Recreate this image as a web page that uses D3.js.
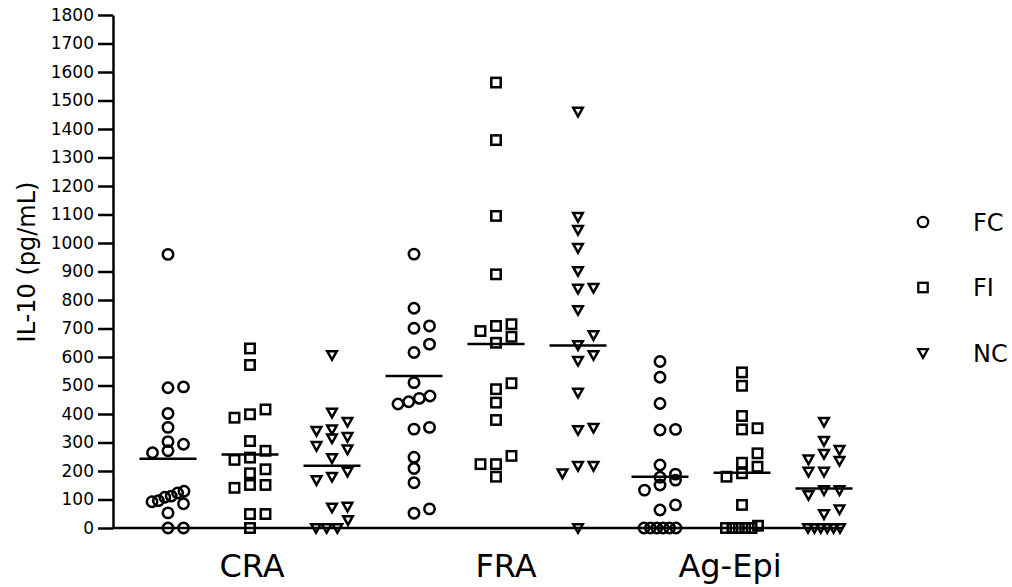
<!DOCTYPE html>
<html>
<head>
<meta charset="utf-8">
<script src="https://cdn.jsdelivr.net/npm/d3@7"></script>
<style>
  body { margin: 0; background: #fff; }
  text { font-family: "DejaVu Sans", Verdana, sans-serif; fill: #000; }
</style>
</head>
<body>
<script>
// Categories and series
const groups = ["CRA", "FRA", "Ag-Epi"];
const series = ["FC", "FI", "NC"];

// IL-10 values (pg/mL)
const craFC = [960, 495, 492, 402, 353, 303, 294, 271, 264, 129, 123, 112, 108, 96, 92, 85, 53, 0, 0];
const craFI = [630, 572, 416, 399, 387, 305, 271, 247, 239, 206, 192, 151, 151, 141, 49, 49, 0];
const craNC = [607, 405, 373, 346, 341, 320, 315, 288, 276, 245, 198, 180, 168, 75, 72, 28, 0, 0, 0];
const fraFC = [961, 771, 709, 701, 645, 616, 510, 463, 455, 443, 435, 353, 347, 248, 209, 159, 67, 52];
const fraFI = [1563, 1361, 1095, 890, 715, 709, 691, 671, 650, 508, 487, 440, 379, 253, 224, 224, 180];
const fraNC = [1461, 1092, 1046, 983, 902, 843, 840, 765, 677, 642, 607, 587, 475, 352, 344, 218, 218, 192, 0];
const agFC = [584, 529, 437, 346, 344, 221, 189, 178, 168, 151, 133, 81, 63, 0, 0, 0, 0, 0, 0];
const agFI = [546, 499, 393, 350, 346, 262, 229, 215, 192, 180, 81, 8, 0, 0, 0, 0, 0];
const agNC = [373, 306, 274, 260, 241, 236, 198, 198, 133, 133, 116, 66, 49, 0, 0, 0, 0, 0, 0];

// Group mean lines as drawn
const craMeans = [243, 258, 218];
const fraMeans = [533, 646, 640];
const agMeans = [180, 194, 139];

const yTicks = [0, 100, 200, 300, 400, 500, 600, 700, 800, 900, 1000, 1100, 1200, 1300, 1400, 1500, 1600, 1700, 1800];

const columns = [
  { group: "CRA", s: "FC", values: craFC, mean: craMeans[0] },
  { group: "CRA", s: "FI", values: craFI, mean: craMeans[1] },
  { group: "CRA", s: "NC", values: craNC, mean: craMeans[2] },
  { group: "FRA", s: "FC", values: fraFC, mean: fraMeans[0] },
  { group: "FRA", s: "FI", values: fraFI, mean: fraMeans[1] },
  { group: "FRA", s: "NC", values: fraNC, mean: fraMeans[2] },
  { group: "Ag-Epi", s: "FC", values: agFC, mean: agMeans[0] },
  { group: "Ag-Epi", s: "FI", values: agFI, mean: agMeans[1] },
  { group: "Ag-Epi", s: "NC", values: agNC, mean: agMeans[2] }
];

const width = 1012, height = 587;
const axisX = 113;

const svg = d3.select("body").append("svg")
  .attr("width", width)
  .attr("height", height);

const y = d3.scaleLinear().domain([0, 1800]).range([528, 15]);
const xg = d3.scalePoint().domain(groups).range([250, 742]);
const xs = d3.scalePoint().domain(series).range([-82, 82]);

// marker shapes
const tri = "M-4.8,-3.8L4.8,-3.8L0,4.8Z";
function drawMarker(sel, s) {
  if (s === "FC") {
    sel.append("circle").attr("r", 5.2);
  } else if (s === "FI") {
    sel.append("rect").attr("x", -4.7).attr("y", -4.7).attr("width", 9.4).attr("height", 9.4);
  } else {
    sel.append("path").attr("d", tri);
  }
}

// simple row binning scatter, like the column scatter plot
function spread(values) {
  const pts = values.map((v) => ({ v, py: y(v), dx: 0 }))
    .sort((a, b) => b.py - a.py);
  const rows = [];
  let row = [];
  pts.forEach((p) => {
    if (row.length && row[0].py - p.py >= 11) {
      rows.push(row);
      row = [];
    }
    row.push(p);
  });
  if (row.length) rows.push(row);
  rows.forEach((r) => {
    const n = r.length;
    if (n === 2) {
      r[0].dx = 0;
      r[1].dx = 15.5;
    } else if (n > 2) {
      const st = Math.min(15.5, 32 / (n - 1));
      r.forEach((p, i) => (p.dx = (i - (n - 1) / 2) * st));
    }
  });
  return pts;
}

// axes
const yAxis = svg.append("g")
  .attr("transform", "translate(" + axisX + ",0)")
  .call(d3.axisLeft(y).tickValues(yTicks).tickFormat(d3.format("d"))
    .tickSize(15).tickPadding(4).tickSizeOuter(0));
yAxis.select(".domain").attr("stroke", "#000").attr("stroke-width", 2.5);
yAxis.selectAll(".tick line").attr("stroke", "#000").attr("stroke-width", 2.5);
yAxis.selectAll(".tick text")
  .style("font-family", "'DejaVu Sans', Verdana, sans-serif")
  .style("font-size", "17px")
  .attr("fill", "#000");

svg.append("line")
  .attr("x1", axisX).attr("x2", 842)
  .attr("y1", y(0)).attr("y2", y(0))
  .attr("stroke", "#000").attr("stroke-width", 2.5);

// y label
svg.append("text")
  .attr("transform", "translate(35,262) rotate(-90)")
  .attr("text-anchor", "middle")
  .style("font-size", "24px")
  .text("IL-10 (pg/mL)");

// category labels
const labelNudge = [2, 10, -12];
svg.selectAll(".cat")
  .data(groups)
  .enter()
  .append("text")
  .attr("class", "cat")
  .attr("x", (d, i) => xg(d) + labelNudge[i])
  .attr("y", 577)
  .attr("text-anchor", "middle")
  .style("font-size", "32px")
  .text((d) => d);

// points
columns.forEach((c) => {
  const cx = xg(c.group) + xs(c.s);
  const g = svg.append("g").attr("fill", "none").attr("stroke", "#000").attr("stroke-width", 2.5);
  spread(c.values).forEach((p) => {
    const m = g.append("g").attr("transform", "translate(" + (cx + p.dx) + "," + p.py + ")");
    drawMarker(m, c.s);
  });
  svg.append("line")
    .attr("x1", cx - 28.5).attr("x2", cx + 28.5)
    .attr("y1", y(c.mean)).attr("y2", y(c.mean))
    .attr("stroke", "#000").attr("stroke-width", 2.5);
});

// legend
const legend = svg.selectAll(".legend")
  .data(series)
  .enter()
  .append("g")
  .attr("class", "legend")
  .attr("transform", (d, i) => "translate(923," + (222 + i * 65.5) + ")");
legend.each(function (d) {
  const m = d3.select(this).append("g").attr("fill", "none").attr("stroke", "#000").attr("stroke-width", 2.3);
  drawMarker(m, d);
});
legend.append("text")
  .attr("x", 50)
  .attr("dy", "0.36em")
  .style("font-size", "24px")
  .text((d) => d);
</script>
</body>
</html>
